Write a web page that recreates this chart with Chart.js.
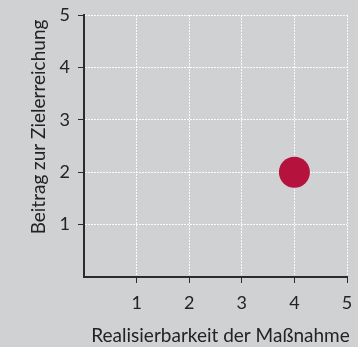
<!DOCTYPE html>
<html>
<head>
<meta charset="utf-8">
<script src="https://cdn.jsdelivr.net/npm/chart.js@4"></script>
<style>
  html, body { margin: 0; padding: 0; background: #d0d1d3; }
  #wrap { width: 358px; height: 347px; }
</style>
</head>
<body>
<div id="wrap"><canvas id="c" width="358" height="347"></canvas></div>
<script>
// Measure: realisability (x) vs. contribution to target (y)
const realisierbarkeit = [4];
const beitrag = [2];
const tickValues = [1, 2, 3, 4, 5];
const xTitle = 'Realisierbarkeit der Maßnahme';
const yTitle = 'Beitrag zur Zielerreichung';

const bg = '#d0d1d3';
const axisColor = '#2b2b2b';
const textColor = '#232323';
const fontFamily = 'Lato, "Open Sans", sans-serif';

const points = realisierbarkeit.map((x, i) => ({ x: x, y: beitrag[i] }));

function scaleOpts(isX, fixedSize) {
  return {
    type: 'linear',
    min: 0,
    max: 5,
    afterBuildTicks: (s) => { s.ticks = [0].concat(tickValues).map(v => ({ value: v })); },
    afterFit: (s) => {
      // fixed axis thickness; label overhang is covered by the layout padding
      if (isX) { s.height = fixedSize; s.paddingLeft = 0; s.paddingRight = 0; }
      else { s.width = fixedSize; s.paddingTop = 0; s.paddingBottom = 0; }
    },
    ticks: {
      color: textColor,
      font: { family: fontFamily, size: 18 },
      padding: isX ? 9 : 8,
      maxRotation: 0,
      callback: (v) => (v === 0 ? '' : String(v))
    },
    grid: {
      color: (ctx) => (ctx.tick && ctx.tick.value === 0 ? 'rgba(0,0,0,0)' : 'rgba(255,255,255,0.9)'),
      tickColor: (ctx) => (ctx.tick && ctx.tick.value === 0 ? 'rgba(0,0,0,0)' : axisColor),
      lineWidth: 1,
      tickLength: 6,
      drawTicks: true
    },
    // in Chart.js v4 border.dash styles the grid lines; the axis line stays solid
    border: { display: true, color: axisColor, width: 2, dash: [2, 1] },
    title: { display: false }
  };
}

// background fill and axis titles
const decor = {
  id: 'decor',
  beforeDraw(chart) {
    const ctx = chart.ctx;
    ctx.save();
    ctx.fillStyle = bg;
    ctx.fillRect(0, 0, chart.width, chart.height);
    ctx.restore();
  },
  afterDraw(chart) {
    const ctx = chart.ctx;
    const area = chart.chartArea;
    ctx.save();
    ctx.fillStyle = textColor;
    ctx.font = '19px ' + fontFamily;
    ctx.textAlign = 'center';
    ctx.textBaseline = 'alphabetic';
    ctx.fillText(xTitle, (area.left + area.right) / 2 + 5, chart.height - 5.5);
    ctx.translate(45, (area.top + area.bottom) / 2 - 19);
    ctx.rotate(-Math.PI / 2);
    ctx.fillText(yTitle, 0, 0);
    ctx.restore();
  }
};

new Chart(document.getElementById('c'), {
  type: 'scatter',
  data: {
    datasets: [{
      data: points,
      backgroundColor: '#b5123e',
      borderColor: '#b5123e',
      borderWidth: 0,
      pointRadius: 15.5,
      pointHoverRadius: 15.5
    }]
  },
  options: {
    responsive: false,
    animation: false,
    devicePixelRatio: 1,
    layout: { autoPadding: false, padding: { left: 0, right: 11, top: 15, bottom: 0 } },
    plugins: { legend: { display: false }, tooltip: { enabled: false } },
    scales: {
      x: scaleOpts(true, 70),
      y: scaleOpts(false, 84)
    }
  },
  plugins: [decor]
});
</script>
</body>
</html>
